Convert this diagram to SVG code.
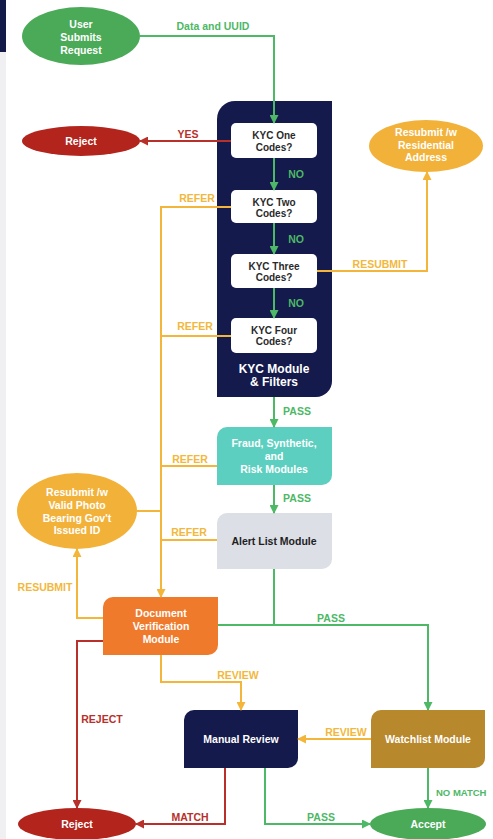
<svg xmlns="http://www.w3.org/2000/svg" width="493" height="839" viewBox="0 0 493 839">
<defs>
<style>
text{font-family:"Liberation Sans",Arial,sans-serif;font-weight:bold;text-anchor:middle}
.nt{fill:#ffffff;font-size:10.5px}
.kt{fill:#2a2a2a;font-size:10px}
.lbl{font-size:10.5px}
.lg{fill:#4db866}
.ly{fill:#f2b83c}
.lr{fill:#b8302a}
.cg{fill:none;stroke:#4db866;stroke-width:2}
.cy{fill:none;stroke:#f4b63a;stroke-width:2}
.cr{fill:none;stroke:#b8302a;stroke-width:2}
</style>
<marker id="ag" markerWidth="9" markerHeight="9" refX="8" refY="4.5" orient="auto" markerUnits="userSpaceOnUse"><path d="M0,0 L9,4.5 L0,9 Z" fill="#4db866"/></marker>
<marker id="ay" markerWidth="9" markerHeight="9" refX="8" refY="4.5" orient="auto" markerUnits="userSpaceOnUse"><path d="M0,0 L9,4.5 L0,9 Z" fill="#f4b63a"/></marker>
<marker id="ar" markerWidth="9" markerHeight="9" refX="8" refY="4.5" orient="auto" markerUnits="userSpaceOnUse"><path d="M0,0 L9,4.5 L0,9 Z" fill="#b8302a"/></marker>
</defs>
<rect x="0" y="0" width="493" height="839" fill="#ffffff"/>
<rect x="0" y="0" width="6" height="839" fill="#f0f0f3"/>
<rect x="0" y="0" width="6" height="52" fill="#141a48"/>

<g id="user-submits">
<ellipse cx="81" cy="36" rx="59" ry="29" fill="#4aaa58"/>
<text class="nt" x="81" y="27.5">User</text>
<text class="nt" x="81" y="40.5">Submits</text>
<text class="nt" x="81" y="53.5">Request</text>
</g>

<g id="reject-top">
<ellipse cx="81" cy="141" rx="59" ry="15" fill="#b3241d"/>
<text class="nt" x="81" y="144.5">Reject</text>
</g>

<g id="resubmit-address">
<ellipse cx="426" cy="146" rx="57" ry="26" fill="#f2b23a"/>
<text class="nt" x="426" y="135.5">Resubmit /w</text>
<text class="nt" x="426" y="148.5">Residential</text>
<text class="nt" x="426" y="161">Address</text>
</g>

<g id="kyc-module">
<path d="M217 119 A18 18 0 0 1 235 101 H332 V381 A16 16 0 0 1 316 397 H217 Z" fill="#141a4c"/>
<text class="nt" x="274" y="373" style="font-size:12px">KYC Module</text>
<text class="nt" x="274" y="386" style="font-size:12px">&amp; Filters</text>
</g>

<g id="kyc-one">
<rect x="231" y="123" width="86" height="35" rx="5" fill="#ffffff"/>
<text class="kt" x="274" y="139">KYC One</text>
<text class="kt" x="274" y="150.5">Codes?</text>
</g>
<g id="kyc-two">
<rect x="231" y="190" width="86" height="33" rx="5" fill="#ffffff"/>
<text class="kt" x="274" y="205.5">KYC Two</text>
<text class="kt" x="274" y="217">Codes?</text>
</g>
<g id="kyc-three">
<rect x="231" y="254" width="86" height="34" rx="5" fill="#ffffff"/>
<text class="kt" x="274" y="269.5">KYC Three</text>
<text class="kt" x="274" y="281">Codes?</text>
</g>
<g id="kyc-four">
<rect x="231" y="318" width="86" height="35" rx="5" fill="#ffffff"/>
<text class="kt" x="274" y="333.5">KYC Four</text>
<text class="kt" x="274" y="345">Codes?</text>
</g>

<g id="fraud">
<path d="M217 437 A10 10 0 0 1 227 427 H332 V475 A10 10 0 0 1 322 485 H217 Z" fill="#5dcfc0"/>
<text class="nt" x="274" y="447">Fraud, Synthetic,</text>
<text class="nt" x="274" y="460">and</text>
<text class="nt" x="274" y="473">Risk Modules</text>
</g>

<g id="alert-list">
<path d="M217 523 A10 10 0 0 1 227 513 H332 V559 A10 10 0 0 1 322 569 H217 Z" fill="#dcdfe6"/>
<text x="274" y="544.5" style="fill:#1e1e24;font-size:10.5px">Alert List Module</text>
</g>

<g id="resubmit-photo">
<ellipse cx="77" cy="511" rx="60" ry="38" fill="#f2b23a"/>
<text class="nt" x="77" y="495.5">Resubmit /w</text>
<text class="nt" x="77" y="508.5">Valid Photo</text>
<text class="nt" x="77" y="521.5">Bearing Gov't</text>
<text class="nt" x="77" y="534">Issued ID</text>
</g>

<g id="doc-verification">
<path d="M103 607 A10 10 0 0 1 113 597 H218 V645 A10 10 0 0 1 208 655 H103 Z" fill="#f07a2c"/>
<text class="nt" x="161" y="617">Document</text>
<text class="nt" x="161" y="630">Verification</text>
<text class="nt" x="161" y="643">Module</text>
</g>

<g id="manual-review">
<path d="M184 720 A10 10 0 0 1 194 710 H298 V758 A10 10 0 0 1 288 768 H184 Z" fill="#141a4c"/>
<text class="nt" x="241" y="742.5">Manual Review</text>
</g>

<g id="watchlist">
<path d="M371 720 A10 10 0 0 1 381 710 H485 V758 A10 10 0 0 1 475 768 H371 Z" fill="#b8882c"/>
<text class="nt" x="428" y="742.5">Watchlist Module</text>
</g>

<g id="reject-bottom">
<ellipse cx="77" cy="824" rx="59" ry="16" fill="#b3241d"/>
<text class="nt" x="77" y="828">Reject</text>
</g>

<g id="accept">
<ellipse cx="428" cy="824" rx="58" ry="16" fill="#4aaa58"/>
<text class="nt" x="428" y="828">Accept</text>
</g>

<g id="connectors">
<path class="cg" d="M140 36 H274 V123" marker-end="url(#ag)"/>
<path class="cr" d="M231 141 H140" marker-end="url(#ar)"/>
<path class="cg" d="M274 158 V190" marker-end="url(#ag)"/>
<path class="cg" d="M274 223 V254" marker-end="url(#ag)"/>
<path class="cg" d="M274 288 V318" marker-end="url(#ag)"/>
<path class="cy" d="M317 271 H427 V172" marker-end="url(#ay)"/>
<path class="cy" d="M231 207 H161 V597" marker-end="url(#ay)"/>
<path class="cy" d="M231 336 H161"/>
<path class="cy" d="M217 466 H161"/>
<path class="cy" d="M217 540 H161"/>
<path class="cy" d="M137 511 H161"/>
<path class="cg" d="M274 397 V427" marker-end="url(#ag)"/>
<path class="cg" d="M274 485 V513" marker-end="url(#ag)"/>
<path class="cg" d="M274 569 V625"/>
<path class="cg" d="M218 625 H428 V710" marker-end="url(#ag)"/>
<path class="cy" d="M103 618 H77 V549" marker-end="url(#ay)"/>
<path class="cr" d="M103 641 H77 V808" marker-end="url(#ar)"/>
<path class="cy" d="M161 655 V682 H241 V710" marker-end="url(#ay)"/>
<path class="cy" d="M371 739 H298" marker-end="url(#ay)"/>
<path class="cg" d="M428 768 V808" marker-end="url(#ag)"/>
<path class="cr" d="M225 768 V824 H136" marker-end="url(#ar)"/>
<path class="cg" d="M265 768 V824 H370" marker-end="url(#ag)"/>

<text class="lbl lg" x="213" y="29.5">Data and UUID</text>
<text class="lbl lr" x="188" y="137.5">YES</text>
<text class="lbl lg" x="296" y="177.5">NO</text>
<text class="lbl lg" x="296" y="242.5">NO</text>
<text class="lbl lg" x="296" y="306.5">NO</text>
<text class="lbl ly" x="197" y="201.5">REFER</text>
<text class="lbl ly" x="380" y="267.5">RESUBMIT</text>
<text class="lbl ly" x="195" y="329.5">REFER</text>
<text class="lbl lg" x="297" y="414.5">PASS</text>
<text class="lbl ly" x="190" y="462.5">REFER</text>
<text class="lbl lg" x="297" y="501.5">PASS</text>
<text class="lbl ly" x="189" y="535.5">REFER</text>
<text class="lbl ly" x="45" y="590.5">RESUBMIT</text>
<text class="lbl lg" x="331" y="621.5">PASS</text>
<text class="lbl ly" x="238" y="678.5">REVIEW</text>
<text class="lbl lr" x="102" y="722.5">REJECT</text>
<text class="lbl ly" x="346" y="735.5">REVIEW</text>
<text class="lbl lg" x="436" y="795.5" style="text-anchor:start;font-size:9.5px">NO MATCH</text>
<text class="lbl lr" x="190" y="820.5">MATCH</text>
<text class="lbl lg" x="321" y="820.5">PASS</text>
</g>
</svg>
